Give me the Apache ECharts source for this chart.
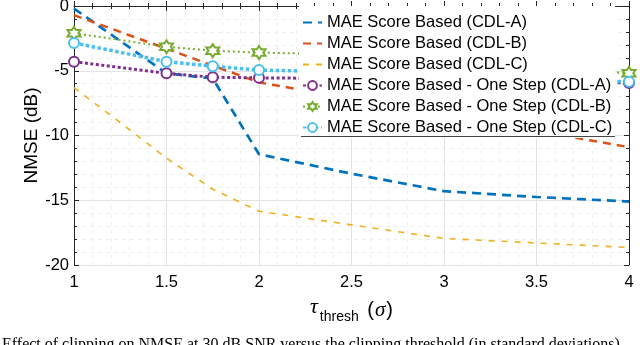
<!DOCTYPE html>
<html>
<head>
<meta charset="utf-8">
<script src="https://cdn.jsdelivr.net/npm/echarts@6/dist/echarts.min.js"></script>
<style>
  html, body { margin: 0; padding: 0; background: #fff; }
  #chart { width: 640px; height: 345px; }
</style>
</head>
<body>
<div id="chart"></div>
<script>
// values (NMSE in dB vs clipping threshold)
const thresholds = [1, 1.25, 1.5, 1.75, 2, 2.5, 3, 3.5, 4];
const maeCdlA = [-0.2, -2.7, -5.2, -5.6, -11.45, -12.95, -14.3, -14.75, -15.1];
const maeCdlB = [-0.7, -2.0, -3.3, -4.6, -5.9, -7.15, -8.4, -9.65, -10.9];
const maeCdlC = [-6.3, -9.0, -11.75, -14.15, -15.85, -16.9, -17.95, -18.3, -18.65];

const oneStepThresholds = [1, 1.5, 1.75, 2, 2.5, 3, 3.5, 4];
const oneStepCdlA = [-4.3, -5.2, -5.5, -5.55, -5.6, -5.7, -5.8, -5.95];
const oneStepCdlB = [-2.1, -3.15, -3.45, -3.6, -3.75, -4.2, -4.7, -5.2];
const oneStepCdlC = [-2.85, -4.3, -4.65, -4.95, -5.1, -5.4, -5.65, -5.85];

const seriesNames = [
  'MAE Score Based (CDL-A)',
  'MAE Score Based (CDL-B)',
  'MAE Score Based (CDL-C)',
  'MAE Score Based - One Step (CDL-A)',
  'MAE Score Based - One Step (CDL-B)',
  'MAE Score Based - One Step (CDL-C)'
];

const FONT = '"Liberation Sans", Arial, Helvetica, sans-serif';
const AXIS_COLOR = '#262626';
const hexagram = 'path://M10 0 L12.89 5 L18.66 5 L15.77 10 L18.66 15 L12.89 15 L10 20 L7.11 15 L1.34 15 L4.23 10 L1.34 5 L7.11 5 Z';

const pairs = (xs, ys) => xs.map((x, i) => [x, ys[i]]);

const tickStyle = {
  show: true, inside: true, length: 5,
  lineStyle: { color: AXIS_COLOR, width: 1 }
};
const minorTickStyle = {
  show: true, splitNumber: 5, length: 3,
  lineStyle: { color: AXIS_COLOR, width: 1 }
};

const chart = echarts.init(document.getElementById('chart'), null, { renderer: 'canvas' });

chart.setOption({
  animation: false,
  backgroundColor: '#fff',
  textStyle: { fontFamily: FONT },
  grid: { left: 74, right: 11, top: 6, bottom: 80, outerBoundsMode: 'none' },
  xAxis: [
    {
      type: 'value', min: 1, max: 4, interval: 0.5,
      axisLine: { show: true, lineStyle: { color: AXIS_COLOR, width: 1 } },
      axisTick: tickStyle,
      minorTick: minorTickStyle,
      axisLabel: { color: '#000', fontSize: 16.5, fontFamily: FONT, margin: 9 },
      splitLine: { show: true, lineStyle: { color: '#e2e2e2', width: 1 } },
      minorSplitLine: { show: true, lineStyle: { color: '#efefef', width: 1, type: [4, 4] } },
      name: '{t|τ}{s|thresh}{p| (}{g|σ}{p|)}',
      nameLocation: 'middle',
      nameGap: 33,
      nameMoveOverlap: false,
      nameTextStyle: {
        rich: {
          t: { fontFamily: '"Liberation Serif", serif', fontStyle: 'italic', fontSize: 22, lineHeight: 24, padding: [0, 1, 6, 0], color: '#000' },
          s: { fontFamily: FONT, fontSize: 14, lineHeight: 14, padding: [15, 3, 1, 1], color: '#000' },
          p: { fontFamily: FONT, fontSize: 20, lineHeight: 20, padding: [5, 0, 5, 0], color: '#000' },
          g: { fontFamily: '"Liberation Serif", serif', fontStyle: 'italic', fontSize: 21, lineHeight: 20, padding: [5, 1, 5, 1], color: '#000' }
        }
      }
    },
    {
      type: 'value', min: 1, max: 4, interval: 0.5, position: 'top',
      axisLine: { show: true, lineStyle: { color: AXIS_COLOR, width: 1 } },
      axisTick: tickStyle,
      minorTick: minorTickStyle,
      axisLabel: { show: false },
      splitLine: { show: false }
    }
  ],
  yAxis: [
    {
      type: 'value', min: -20, max: 0, interval: 5,
      axisLine: { show: true, lineStyle: { color: AXIS_COLOR, width: 1 } },
      axisTick: tickStyle,
      minorTick: minorTickStyle,
      axisLabel: { color: '#000', fontSize: 16.5, fontFamily: FONT, margin: 5 },
      splitLine: { show: true, lineStyle: { color: '#e2e2e2', width: 1 } },
      minorSplitLine: { show: true, lineStyle: { color: '#efefef', width: 1, type: [4, 4] } },
      name: 'NMSE (dB)',
      nameLocation: 'middle',
      nameGap: 33,
      nameMoveOverlap: false,
      nameTextStyle: { color: '#000', fontSize: 19, fontFamily: FONT }
    },
    {
      type: 'value', min: -20, max: 0, interval: 5, position: 'right',
      axisLine: { show: true, lineStyle: { color: AXIS_COLOR, width: 1 } },
      axisTick: tickStyle,
      minorTick: minorTickStyle,
      axisLabel: { show: false },
      splitLine: { show: false }
    }
  ],
  legend: {
    data: [
      { name: seriesNames[0], itemStyle: { opacity: 0 } },
      { name: seriesNames[1], itemStyle: { opacity: 0 } },
      { name: seriesNames[2], itemStyle: { opacity: 0 } },
      { name: seriesNames[3] },
      { name: seriesNames[4] },
      { name: seriesNames[5] }
    ],
    orient: 'vertical',
    left: 299,
    top: 6,
    itemWidth: 19,
    itemHeight: 11,
    itemGap: 0,
    padding: [6, 3, 0, 3],
    backgroundColor: '#fff',
    borderWidth: 0,
    textStyle: { color: '#000', fontSize: 16.5, lineHeight: 21, fontFamily: FONT }
  },
  graphic: [
    {
      type: 'line', z: 100,
      shape: { x1: 301, y1: 136.5, x2: 615, y2: 136.5 },
      style: { stroke: '#444', lineWidth: 1 }
    },
    {
      type: 'text', left: 2, top: 337,
      style: {
        text: 'Effect of clipping on NMSE at 30 dB SNR versus the clipping threshold (in standard deviations)',
        font: '16px "Liberation Serif", serif',
        fill: '#000'
      }
    }
  ],
  series: [
    {
      name: seriesNames[0], type: 'line', data: pairs(thresholds, maeCdlA),
      symbol: 'none', z: 2,
      lineStyle: { color: '#0072BD', width: 2.7, type: [9, 6] },
      itemStyle: { color: '#0072BD' }
    },
    {
      name: seriesNames[1], type: 'line', data: pairs(thresholds, maeCdlB),
      symbol: 'none', z: 2,
      lineStyle: { color: '#D95319', width: 2.5, type: [8, 6] },
      itemStyle: { color: '#D95319' }
    },
    {
      name: seriesNames[2], type: 'line', data: pairs(thresholds, maeCdlC),
      symbol: 'none', z: 2,
      lineStyle: { color: '#EDB120', width: 1.6, type: [6, 7] },
      itemStyle: { color: '#EDB120' }
    },
    {
      name: seriesNames[3], type: 'line', data: pairs(oneStepThresholds, oneStepCdlA),
      symbol: 'emptyCircle', symbolSize: 10, showAllSymbol: true, z: 3,
      lineStyle: { color: '#7E2F8E', width: 3, type: [3, 2.5] },
      itemStyle: { color: '#7E2F8E', borderWidth: 2.5 }
    },
    {
      name: seriesNames[4], type: 'line', data: pairs(oneStepThresholds, oneStepCdlB),
      symbol: hexagram, symbolSize: 13, showAllSymbol: true, z: 3,
      lineStyle: { color: '#77AC30', width: 2, type: [2, 3] },
      itemStyle: { color: '#fff', borderColor: '#77AC30', borderWidth: 2 }
    },
    {
      name: seriesNames[5], type: 'line', data: pairs(oneStepThresholds, oneStepCdlC),
      symbol: 'emptyCircle', symbolSize: 10, showAllSymbol: true, z: 3,
      lineStyle: { color: '#4DBEEE', width: 3.5, type: [3.5, 2.5] },
      itemStyle: { color: '#4DBEEE', borderWidth: 2.5 }
    }
  ]
});
</script>
</body>
</html>
